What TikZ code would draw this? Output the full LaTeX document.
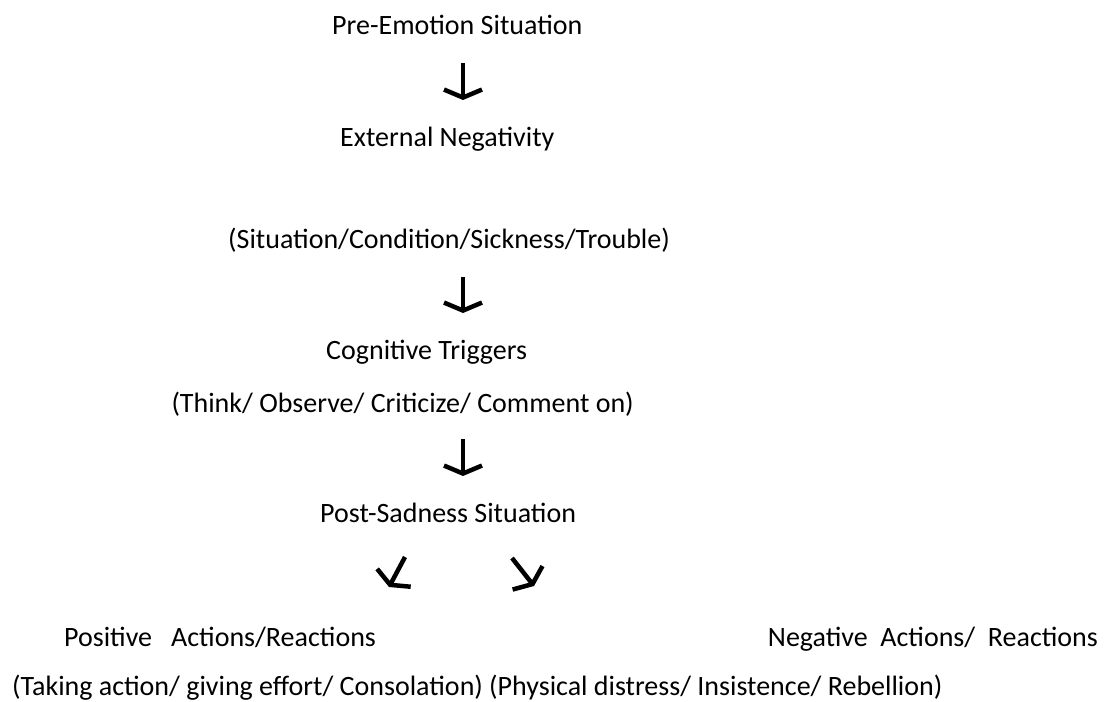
\documentclass[tikz,border=0pt]{standalone}
\usepackage{fontspec}
\setmainfont{Carlito}
\usetikzlibrary{arrows.meta}

\begin{document}
\begin{tikzpicture}[x=1pt,y=-1pt,
        txt/.style={font=\fontsize{28}{32}\selectfont, inner sep=0pt, anchor=base west},
        flow/.style={line width=4.5pt,-{Straight Barb[length=8pt,width=38pt]}}]
        \useasboundingbox (0,0) rectangle (1110,701);

        \node[txt] (pre) at (332,35) {Pre-Emotion Situation};
        \node[txt] (ext) at (340,146) {External Negativity};
        \node[txt] (sit) at (228,248) {(Situation/Condition/Sickness/Trouble)};
        \node[txt] (cog) at (326,359) {Cognitive Triggers};
        \node[txt,anchor=base east] (think) at (634,412) {(Think/ Observe/ Criticize/ Comment on)};
        \node[txt] (post) at (320,522) {Post-Sadness Situation};
        \node[txt] (pos) at (64,646) {Positive\ \ \ Actions/Reactions};
        \node[txt,anchor=base east] (neg) at (1098,646) {Negative\ \ Actions/\ \ Reactions};
        \node[txt] (out) at (12,695) {(Taking action/ giving effort/ Consolation) (Physical distress/ Insistence/ Rebellion)};

        \coordinate (a1) at (463,63);
        \coordinate (a2) at (463,100);
        \coordinate (b1) at (463,277);
        \coordinate (b2) at (463,313);
        \coordinate (c1) at (463,439);
        \coordinate (c2) at (463,476);
        \coordinate (l1) at (405,557);
        \coordinate (l2) at (389,587);
        \coordinate (r1) at (512,558);
        \coordinate (r2) at (534,586);

        \draw[flow] (a1)--(a2);
        \draw[flow] (b1)--(b2);
        \draw[flow] (c1)--(c2);
        \draw[flow] (l1)--(l2);
        \draw[flow] (r1)--(r2);

\end{tikzpicture}
\end{document}
